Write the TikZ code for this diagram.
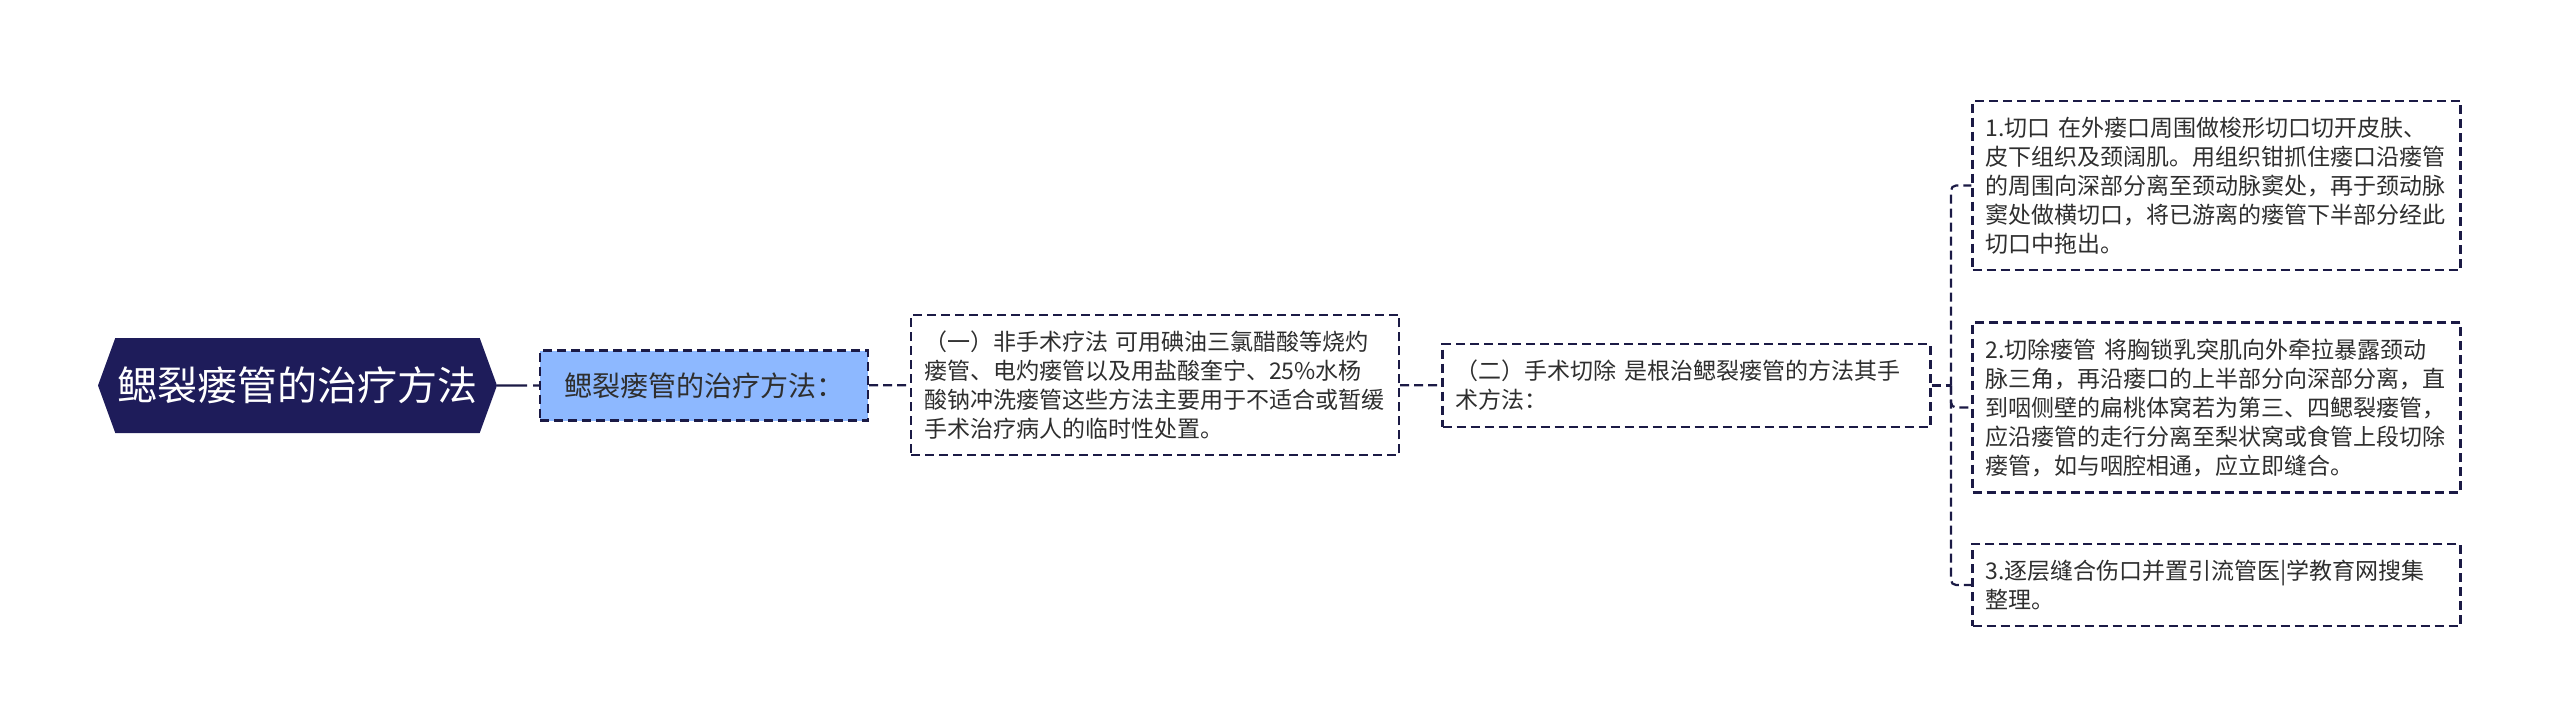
\documentclass[tikz,border=0pt]{standalone}
\usepackage{fontspec}
\setmainfont{Noto Sans CJK SC}
\usetikzlibrary{shapes.symbols}
\definecolor{navy}{HTML}{1E1C5A}
\definecolor{edgenavy}{HTML}{1B1A45}
\definecolor{paleblue}{HTML}{8DB8FF}
\definecolor{ink}{HTML}{2E2E2E}

\begin{document}
\begin{tikzpicture}[
        x=1pt, y=-1pt,
        topic/.style={signal, signal to=west and east, signal pointer angle=140, fill=navy, text=white,
            font=\fontsize{40}{48}\selectfont, minimum width=399pt, minimum height=95pt, inner sep=0pt},
        sub/.style={draw=edgenavy, line width=2.2pt, dash pattern=on 9pt off 5pt, fill=paleblue, text=ink,
            font=\fontsize{28}{34}\selectfont, minimum width=328pt, minimum height=70pt},
        leaf/.style={draw=edgenavy, line width=2.2pt, dash pattern=on 9pt off 5pt, text=ink,
            font=\fontsize{23}{29}\selectfont, text width=462pt, align=left, inner xsep=13pt, inner ysep=16pt},
        link/.style={draw=edgenavy, line width=2.2pt, dash pattern=on 9pt off 5pt, rounded corners=5pt}
    ]
        \useasboundingbox (0,0) rectangle (2560,726);

        % Main topic and its branch
        \node[topic] (root) at (297.5,385.5) {鳃裂瘘管的治疗方法};
        \node[sub] (methods) at (704,385.5) {鳃裂瘘管的治疗方法：};

        % Two kinds of treatment
        \node[leaf] (nonsurg) at (1155,385) {（一）非手术疗法 可用碘油三氯醋酸等烧灼\\瘘管、电灼瘘管以及用盐酸奎宁、25\%水杨\\酸钠冲洗瘘管这些方法主要用于不适合或暂缓\\手术治疗病人的临时性处置。};
        \node[leaf] (surg) at (1686.5,385.5) {（二）手术切除 是根治鳃裂瘘管的方法其手\\术方法：};

        % Steps of the operation
        \node[leaf] (incision) at (2216.5,185.5) {1.切口 在外瘘口周围做梭形切口切开皮肤、\\皮下组织及颈阔肌。用组织钳抓住瘘口沿瘘管\\的周围向深部分离至颈动脉窦处，再于颈动脉\\窦处做横切口，将已游离的瘘管下半部分经此\\切口中拖出。};
        \node[leaf] (excision) at (2216.5,407.5) {2.切除瘘管 将胸锁乳突肌向外牵拉暴露颈动\\脉三角，再沿瘘口的上半部分向深部分离，直\\到咽侧壁的扁桃体窝若为第三、四鳃裂瘘管，\\应沿瘘管的走行分离至梨状窝或食管上段切除\\瘘管，如与咽腔相通，应立即缝合。};
        \node[leaf] (suture) at (2216.5,585) {3.逐层缝合伤口并置引流管医|学教育网搜集\\整理。};

        % Connectors
        \coordinate (fork) at (1951,385.5);
        \draw[link, dash pattern=on 30pt off 6pt] (root) -- (methods);
        \draw[link] (methods) -- (nonsurg);
        \draw[link] (nonsurg) -- (surg);
        \draw[link] (surg) -- (fork);
        \draw[link] (fork) |- (incision.west);
        \draw[link] (fork) |- (excision.west);
        \draw[link] (fork) |- (suture.west);
    \end{tikzpicture}
\end{document}
